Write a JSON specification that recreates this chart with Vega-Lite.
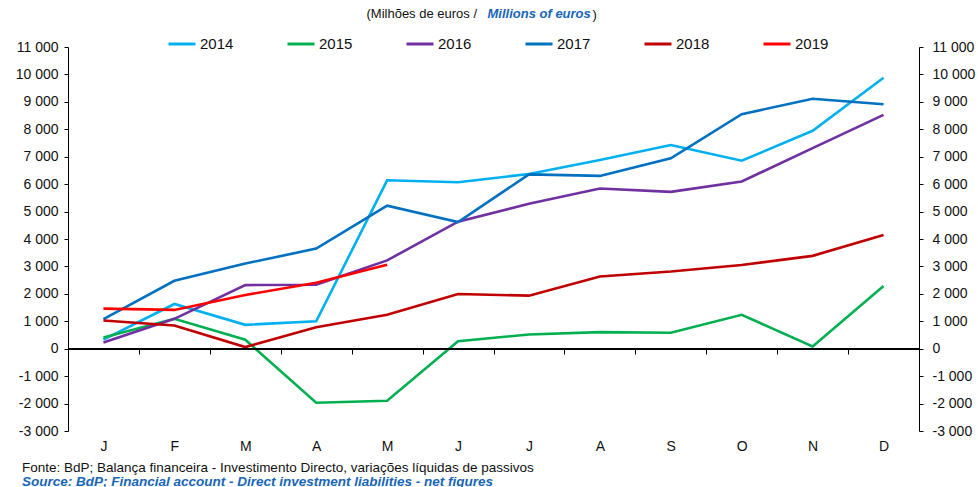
{
  "$schema": "https://vega.github.io/schema/vega-lite/v6.json",
  "width": 851,
  "height": 384,
  "autosize": "none",
  "padding": {"left": 68, "top": 47, "right": 59, "bottom": 56},
  "background": "white",
  "config": {
    "font": "Liberation Sans",
    "view": {"stroke": null},
    "axis": {"grid": false, "domainColor": "#000", "tickColor": "#000", "labelColor": "#111", "labelFont": "Liberation Sans", "labelFontSize": 14}
  },
  "title": {
    "text": "Fonte: BdP; Balança financeira - Investimento Directo, variações líquidas de passivos",
    "subtitle": "Source: BdP;  Financial account - Direct investment liabilities - net figures",
    "orient": "bottom",
    "anchor": "start",
    "frame": "group",
    "dx": -46,
    "offset": 8,
    "font": "Liberation Sans",
    "fontSize": 13.5,
    "fontWeight": "normal",
    "color": "#111",
    "subtitleFont": "Liberation Sans",
    "subtitleFontSize": 13.5,
    "subtitleFontStyle": "italic",
    "subtitleFontWeight": "bold",
    "subtitleColor": "#1866B8",
    "subtitlePadding": 0
  },
  "data": {
    "values": [
      {"m": 1, "year": "2014", "value": 330}, {"m": 2, "year": "2014", "value": 1630}, {"m": 3, "year": "2014", "value": 870}, {"m": 4, "year": "2014", "value": 1000}, {"m": 5, "year": "2014", "value": 6140}, {"m": 6, "year": "2014", "value": 6070}, {"m": 7, "year": "2014", "value": 6370}, {"m": 8, "year": "2014", "value": 6880}, {"m": 9, "year": "2014", "value": 7425}, {"m": 10, "year": "2014", "value": 6855}, {"m": 11, "year": "2014", "value": 7945}, {"m": 12, "year": "2014", "value": 9880},
      {"m": 1, "year": "2015", "value": 410}, {"m": 2, "year": "2015", "value": 1090}, {"m": 3, "year": "2015", "value": 330}, {"m": 4, "year": "2015", "value": -1970}, {"m": 5, "year": "2015", "value": -1900}, {"m": 6, "year": "2015", "value": 270}, {"m": 7, "year": "2015", "value": 520}, {"m": 8, "year": "2015", "value": 605}, {"m": 9, "year": "2015", "value": 580}, {"m": 10, "year": "2015", "value": 1235}, {"m": 11, "year": "2015", "value": 85}, {"m": 12, "year": "2015", "value": 2285},
      {"m": 1, "year": "2016", "value": 230}, {"m": 2, "year": "2016", "value": 1090}, {"m": 3, "year": "2016", "value": 2320}, {"m": 4, "year": "2016", "value": 2330}, {"m": 5, "year": "2016", "value": 3220}, {"m": 6, "year": "2016", "value": 4630}, {"m": 7, "year": "2016", "value": 5285}, {"m": 8, "year": "2016", "value": 5840}, {"m": 9, "year": "2016", "value": 5720}, {"m": 10, "year": "2016", "value": 6095}, {"m": 11, "year": "2016", "value": 7315}, {"m": 12, "year": "2016", "value": 8525},
      {"m": 1, "year": "2017", "value": 1080}, {"m": 2, "year": "2017", "value": 2475}, {"m": 3, "year": "2017", "value": 3105}, {"m": 4, "year": "2017", "value": 3650}, {"m": 5, "year": "2017", "value": 5215}, {"m": 6, "year": "2017", "value": 4620}, {"m": 7, "year": "2017", "value": 6355}, {"m": 8, "year": "2017", "value": 6300}, {"m": 9, "year": "2017", "value": 6940}, {"m": 10, "year": "2017", "value": 8550}, {"m": 11, "year": "2017", "value": 9115}, {"m": 12, "year": "2017", "value": 8910},
      {"m": 1, "year": "2018", "value": 1030}, {"m": 2, "year": "2018", "value": 845}, {"m": 3, "year": "2018", "value": 60}, {"m": 4, "year": "2018", "value": 780}, {"m": 5, "year": "2018", "value": 1240}, {"m": 6, "year": "2018", "value": 1995}, {"m": 7, "year": "2018", "value": 1935}, {"m": 8, "year": "2018", "value": 2635}, {"m": 9, "year": "2018", "value": 2815}, {"m": 10, "year": "2018", "value": 3055}, {"m": 11, "year": "2018", "value": 3385}, {"m": 12, "year": "2018", "value": 4145},
      {"m": 1, "year": "2019", "value": 1460}, {"m": 2, "year": "2019", "value": 1415}, {"m": 3, "year": "2019", "value": 1960}, {"m": 4, "year": "2019", "value": 2405}, {"m": 5, "year": "2019", "value": 3060}
    ]
  },
  "layer": [
    {
      "mark": {"type": "line", "strokeWidth": 2.6},
      "encoding": {
        "x": {
          "field": "m", "type": "ordinal", "bandPosition": 0.5,
          "scale": {"type": "band", "paddingInner": 0, "paddingOuter": 0},
          "axis": {
            "orient": "bottom", "offset": -82, "labelAngle": 0, "tickBand": "extent", "tickSize": 5,
            "labelPadding": 85,
            "labelExpr": "['J','F','M','A','M','J','J','A','S','O','N','D'][datum.value-1]",
            "title": ")", "titleAngle": 0, "titleX": 524, "titleY": -331, "titleAlign": "left", "titleBaseline": "alphabetic",
            "titleFont": "Liberation Sans", "titleFontSize": 13, "titleFontWeight": "normal", "titleColor": "#111"
          }
        },
        "y": {
          "field": "value", "type": "quantitative",
          "scale": {"domain": [-3000, 11000], "nice": false, "zero": false},
          "axis": {
            "orient": "left",
            "values": [-3000, -2000, -1000, 0, 1000, 2000, 3000, 4000, 5000, 6000, 7000, 8000, 9000, 10000, 11000],
            "tickSize": 4, "labelPadding": 6,
            "labelExpr": "datum.value < 0 ? '-' + replace(format(-datum.value, ','), ',', ' ') : replace(format(datum.value, ','), ',', ' ')",
            "title": "(Milhões  de euros / ", "titleAngle": 0, "titleX": 298, "titleY": -30, "titleAlign": "left", "titleBaseline": "alphabetic",
            "titleFont": "Liberation Sans", "titleFontSize": 13, "titleFontWeight": "normal", "titleColor": "#111"
          }
        },
        "color": {
          "field": "year", "type": "nominal",
          "scale": {"domain": ["2014", "2015", "2016", "2017", "2018", "2019"], "range": ["#00B0F0", "#00B050", "#7030A0", "#0070C0", "#C00000", "#FF0000"]},
          "legend": {
            "orient": "none", "legendX": 99, "legendY": -18, "direction": "horizontal", "columns": 6,
            "gridAlign": "all", "columnPadding": 47, "title": null,
            "symbolType": "stroke", "symbolSize": 729, "symbolStrokeWidth": 3,
            "labelFont": "Liberation Sans", "labelFontSize": 15, "labelColor": "#111", "labelOffset": 3
          }
        }
      }
    },
    {
      "mark": {"type": "rule", "color": "#000", "strokeWidth": 1},
      "encoding": {
        "y": {
          "datum": 0, "type": "quantitative",
          "axis": {
            "orient": "right",
            "values": [-3000, -2000, -1000, 0, 1000, 2000, 3000, 4000, 5000, 6000, 7000, 8000, 9000, 10000, 11000],
            "tickSize": 4, "labelPadding": 9,
            "labelExpr": "datum.value < 0 ? '-' + replace(format(-datum.value, ','), ',', ' ') : replace(format(datum.value, ','), ',', ' ')",
            "title": "Millions of euros", "titleAngle": 0, "titleX": -432, "titleY": -30, "titleAlign": "left", "titleBaseline": "alphabetic",
            "titleFont": "Liberation Sans", "titleFontSize": 13, "titleFontWeight": "bold", "titleFontStyle": "italic", "titleColor": "#1866B8"
          }
        }
      }
    }
  ],
  "resolve": {"axis": {"y": "independent"}}
}
